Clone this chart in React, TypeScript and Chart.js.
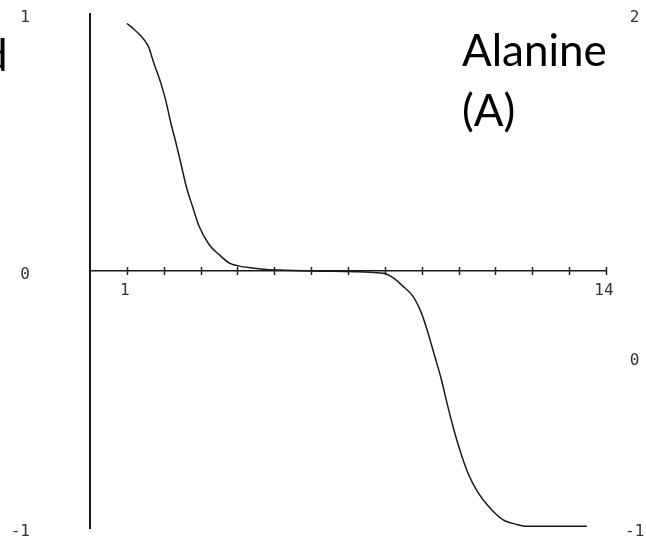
import React, { useEffect, useRef } from 'react';
import { Chart, registerables } from 'chart.js';

Chart.register(...registerables);

// pH values (x) and net charge (y)
const phValues = [
  1.0, 1.15, 1.37, 1.58, 1.73, 1.92, 2.05, 2.19, 2.33, 2.46, 2.61, 2.78, 2.96,
  3.23, 3.5, 3.77, 4.05, 4.4, 4.8, 5.3, 6.0, 6.6, 7.2, 7.6, 8.0, 8.22, 8.49,
  8.76, 8.99, 9.17, 9.35, 9.53, 9.68, 9.84, 10.02, 10.25, 10.52, 10.84, 11.2,
  11.57, 11.8, 13.48,
];
const netCharge = [
  0.963, 0.946, 0.916, 0.875, 0.81, 0.732, 0.667, 0.578, 0.5, 0.422, 0.33,
  0.252, 0.174, 0.103, 0.064, 0.032, 0.019, 0.012, 0.006, 0.003, 0.0, -0.001,
  -0.003, -0.005, -0.01, -0.026, -0.059, -0.098, -0.163, -0.24, -0.33, -0.42,
  -0.51, -0.6, -0.69, -0.785, -0.86, -0.92, -0.967, -0.986, -0.993, -0.993,
];
const xTickValues = [1, 2, 3, 4, 5, 6, 7, 8, 9, 10, 11, 12, 13, 14];
const xLabelValues = [1, 14];
const leftLabelValues = [1, 0, -1];
const rightLabelValues = [2, 0, -1];
const titleLines = ['Alanine', '(A)'];
const cutText = 'd';

export default function App() {
  const canvasRef = useRef<HTMLCanvasElement>(null);

  useEffect(() => {
    const canvas = canvasRef.current;
    if (!canvas) return;

    const tickMarks = {
      id: 'tickMarks',
      afterDraw(chart: any) {
        const { ctx } = chart;
        const xs = chart.scales.x;
        const ys = chart.scales.y;
        const y0 = ys.getPixelForValue(0);
        ctx.save();
        ctx.strokeStyle = '#222';
        ctx.lineWidth = 1.5;
        for (const v of xTickValues) {
          const px = Math.round(xs.getPixelForValue(v)) + 0.5;
          ctx.beginPath();
          ctx.moveTo(px, y0 - 4);
          ctx.lineTo(px, y0 + 4);
          ctx.stroke();
        }
        ctx.restore();
      },
    };

    const tickFont = { family: 'DejaVu Sans Mono', size: 16 };

    const chart = new Chart(canvas, {
      type: 'line',
      data: {
        datasets: [
          {
            data: phValues.map((p, i) => ({ x: p, y: netCharge[i] })),
            borderColor: '#1a1a1a',
            borderWidth: 1.5,
            pointRadius: 0,
            tension: 0.4,
            cubicInterpolationMode: 'monotone',
            fill: false,
          },
        ],
      },
      options: {
        responsive: false,
        animation: false,
        events: [],
        layout: { padding: { top: 14, bottom: 16, left: 0, right: 0 } },
        plugins: {
          legend: { display: false },
          tooltip: { enabled: false },
          title: { display: false },
        },
        scales: {
          x: {
            type: 'linear',
            position: { y: 0 } as any,
            min: 0,
            max: 14,
            grid: { display: false, drawTicks: false },
            border: { display: true, color: '#1a1a1a', width: 1.5 },
            afterFit: (s: any) => {
              s.height = 0;
            },
            ticks: {
              stepSize: 1,
              autoSkip: false,
              maxRotation: 0,
              padding: 10,
              labelOffset: -2,
              color: '#333',
              font: tickFont,
              callback: (v: any) => (xLabelValues.includes(Number(v)) ? String(v) : ''),
            },
          },
          y: {
            type: 'linear',
            position: 'left',
            min: -1,
            max: 1,
            grid: { display: false, drawTicks: true, tickLength: 60 },
            border: { display: true, color: '#1a1a1a', width: 2 },
            afterFit: (s: any) => {
              s.width = 90;
            },
            ticks: {
              stepSize: 1,
              padding: 0,
              labelOffset: 4,
              color: '#333',
              font: tickFont,
              callback: (v: any) => (leftLabelValues.includes(Number(v)) ? String(v) : ''),
            },
          },
          y2: {
            type: 'linear',
            position: 'right',
            min: -1,
            max: 2,
            grid: { display: false, drawTicks: true, tickLength: 19 },
            border: { display: false },
            afterFit: (s: any) => {
              s.width = 40;
            },
            ticks: {
              stepSize: 1,
              padding: 0,
              labelOffset: 4,
              crossAlign: 'center',
              color: '#333',
              font: tickFont,
              callback: (v: any) => (rightLabelValues.includes(Number(v)) ? String(v) : ''),
            },
          },
        },
      },
      plugins: [tickMarks],
    } as any);

    return () => chart.destroy();
  }, []);

  const bigText: React.CSSProperties = {
    position: 'absolute',
    fontFamily: 'Lato, "Open Sans", sans-serif',
    fontSize: 44,
    lineHeight: '60px',
    color: '#000',
    whiteSpace: 'nowrap',
  };

  return (
    <div
      style={{
        position: 'fixed',
        left: 0,
        top: 0,
        width: 646,
        height: 544,
        overflow: 'hidden',
        background: '#fff',
      }}
    >
      <canvas ref={canvasRef} width={646} height={544} style={{ display: 'block', width: 646, height: 544 }} />
      <div style={{ ...bigText, left: -17, top: 24 }}>{cutText}</div>
      <div style={{ ...bigText, left: 462, top: 19 }}>
        {titleLines.map((t) => (
          <div key={t}>{t}</div>
        ))}
      </div>
    </div>
  );
}
